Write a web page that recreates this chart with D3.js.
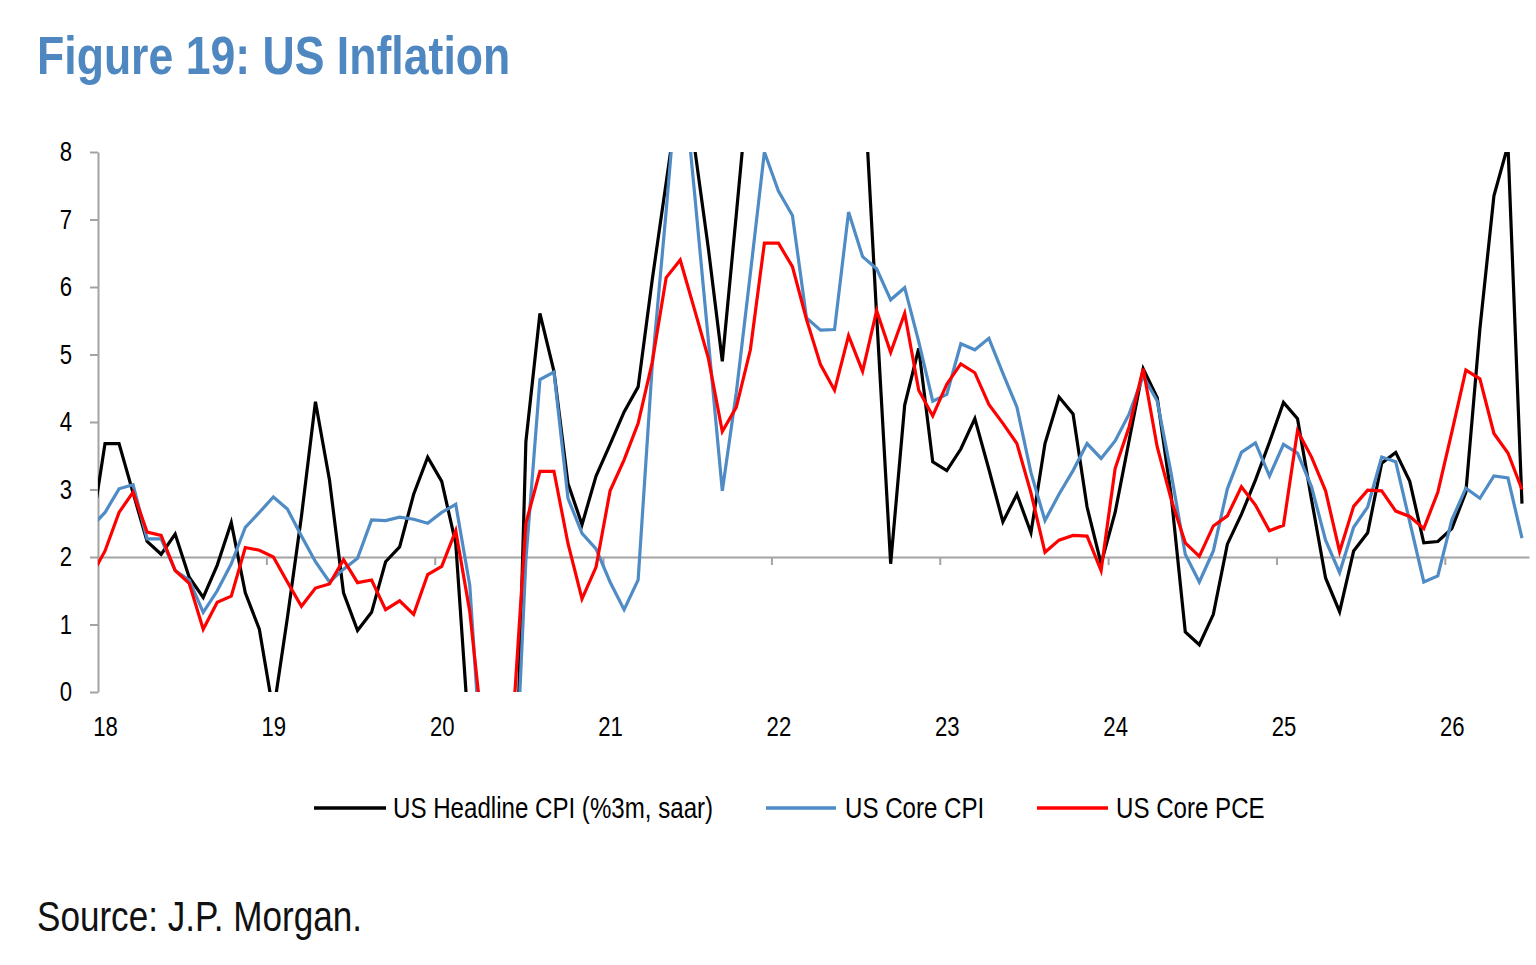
<!DOCTYPE html>
<html>
<head>
<meta charset="utf-8">
<script src="https://cdn.jsdelivr.net/npm/d3@7"></script>
<style>
  html, body { margin: 0; padding: 0; background: #fff; }
  svg { display: block; }
</style>
</head>
<body>
<svg id="chart" width="1536" height="965"></svg>
<script>
// ---------------- DATA (monthly, Dec 2017 .. Jun 2026) ----------------
const yearLabels = ["18", "19", "20", "21", "22", "23", "24", "25", "26"];
const yTicks = [0, 1, 2, 3, 4, 5, 6, 7, 8];
const seriesNames = ["US Headline CPI (%3m, saar)", "US Core CPI", "US Core PCE"];

const headlineCPI = [
  2.34,
  3.68, 3.68, 2.95, 2.23, 2.04, 2.34, 1.70, 1.40, 1.88, 2.51, 1.47, 0.93,   // 2018
  -0.30, 1.10, 2.60, 4.30, 3.14, 1.47, 0.91, 1.18, 1.93, 2.15, 2.93, 3.48,  // 2019
  3.12, 2.20, -0.81, -4.30, -5.10, -3.70, 3.71, 5.61, 4.75, 3.09, 2.48, 3.20, // 2020
  3.67, 4.15, 4.52, 6.10, 7.55, 9.00, 8.10, 6.58, 4.90, 7.08, 9.30, 9.10,   // 2021
  8.90, 9.60, 11.40, 9.20, 10.30, 11.20, 9.40, 5.58, 1.90, 4.25, 5.09, 3.41, // 2022
  3.28, 3.60, 4.05, 3.30, 2.52, 2.93, 2.36, 3.68, 4.37, 4.12, 2.74, 1.90,   // 2023
  2.66, 3.73, 4.79, 4.36, 2.90, 0.89, 0.70, 1.15, 2.19, 2.63, 3.14, 3.70,   // 2024
  4.29, 4.05, 2.85, 1.69, 1.19, 2.09, 2.36, 3.39, 3.55, 3.12, 2.21, 2.23,   // 2025
  2.42, 2.96, 5.38, 7.35, 8.10, 2.79                                        // 2026
];
const coreCPI = [
  2.44,
  2.66, 3.01, 3.07, 2.27, 2.27, 1.80, 1.66, 1.18, 1.50, 1.90, 2.44, 2.66,
  2.89, 2.71, 2.31, 1.93, 1.63, 1.82, 1.98, 2.55, 2.54, 2.59, 2.56, 2.50,
  2.66, 2.78, 1.58, -1.60, -2.60, -2.60, 1.96, 4.63, 4.74, 2.87, 2.35, 2.12,
  1.63, 1.22, 1.66, 4.82, 7.13, 9.60, 7.44, 5.22, 2.98, 4.44, 6.20, 8.00,
  7.42, 7.06, 5.54, 5.36, 5.37, 7.11, 6.45, 6.27, 5.81, 5.99, 5.19, 4.31,
  4.41, 5.16, 5.07, 5.24, 4.72, 4.22, 3.25, 2.54, 2.93, 3.28, 3.68, 3.46,
  3.72, 4.12, 4.68, 4.31, 3.23, 2.04, 1.63, 2.09, 3.01, 3.55, 3.69, 3.20,
  3.67, 3.54, 3.04, 2.25, 1.77, 2.44, 2.74, 3.48, 3.41, 2.52, 1.63, 1.72,
  2.55, 3.02, 2.87, 3.20, 3.17, 2.28
];
const corePCE = [
  1.71,
  2.09, 2.66, 2.96, 2.37, 2.32, 1.80, 1.61, 0.93, 1.33, 1.42, 2.14, 2.10,
  2.00, 1.63, 1.27, 1.54, 1.60, 1.96, 1.62, 1.66, 1.22, 1.35, 1.15, 1.74,
  1.86, 2.39, 1.19, -0.76, -1.60, -0.70, 2.50, 3.27, 3.27, 2.20, 1.38, 1.85,
  2.98, 3.44, 3.98, 4.88, 6.14, 6.40, 5.68, 4.95, 3.86, 4.22, 5.07, 6.65,
  6.65, 6.30, 5.52, 4.85, 4.47, 5.28, 4.75, 5.65, 5.03, 5.61, 4.47, 4.09,
  4.56, 4.86, 4.73, 4.26, 3.98, 3.68, 2.95, 2.07, 2.25, 2.32, 2.31, 1.80,
  3.31, 3.93, 4.79, 3.63, 2.85, 2.21, 2.01, 2.46, 2.61, 3.04, 2.77, 2.39,
  2.47, 3.87, 3.48, 2.98, 2.08, 2.75, 2.99, 2.98, 2.68, 2.60, 2.42, 2.96,
  3.85, 4.77, 4.64, 3.83, 3.54, 3.00
];
const seriesColors = ["#000000", "#4f8bc4", "#ff0000"];

// ---------------- LAYOUT ----------------
const svg = d3.select("#chart");
const plot = { left: 98, right: 1529, top: 152, bottom: 692 };
const axisGray = "#a3a3a3";
const nMonths = 102; // Jan 2018 .. Jun 2026 inside the axis

// Font handling: use a narrow face if present, otherwise condense Liberation Sans
function fontAvailable(name) {
  const t = svg.append("text").style("font-size", "100px").text("abcdefghijklmnop 0123456789");
  t.style("font-family", "monospace");
  const w0 = t.node().getComputedTextLength();
  t.style("font-family", `'${name}', monospace`);
  const w1 = t.node().getComputedTextLength();
  t.remove();
  return Math.abs(w1 - w0) > 1;
}
const hasNarrow = fontAvailable("Liberation Sans Narrow");
const FONT = hasNarrow ? "'Liberation Sans Narrow', 'Arial Narrow', sans-serif" : "'Liberation Sans', Arial, sans-serif";
const SX = hasNarrow ? 1 : 0.82;

function addText(g, x, y, str, opts) {
  return g.append("text")
    .attr("transform", `translate(${x},${y}) scale(${SX},1)`)
    .attr("x", 0).attr("y", 0)
    .style("font-family", FONT)
    .style("font-size", opts.size + "px")
    .style("font-weight", opts.weight || "normal")
    .style("fill", opts.color || "#000")
    .attr("text-anchor", opts.anchor || "start")
    .text(str);
}
function condenseAxisText(sel) {
  sel.selectAll("text").each(function () {
    const t = d3.select(this);
    const xv = +t.attr("x") || 0;
    t.attr("x", xv / SX).attr("transform", `scale(${SX},1)`);
  });
}

// ---------------- SCALES ----------------
const x = d3.scaleLinear().domain([0, nMonths]).range([plot.left, plot.right]);
const y = d3.scaleLinear().domain([0, 8]).range([plot.bottom, plot.top]);
const xPos = i => x(i - 1 + 0.5);   // index 0 = Dec 2017 (month -1)

// ---------------- TITLE ----------------
addText(svg, 37, 74, "Figure 19: US Inflation", { size: 54.4, weight: "bold", color: "#4f88c0" });

// ---------------- AXES ----------------
const yAxis = svg.append("g")
  .attr("transform", `translate(${plot.left},0)`)
  .call(d3.axisLeft(y).tickValues(yTicks).tickFormat(d3.format("d")).tickSizeInner(8).tickSizeOuter(0).tickPadding(18));
yAxis.select(".domain").attr("stroke", axisGray).attr("stroke-width", 2);
yAxis.selectAll(".tick line").attr("stroke", axisGray).attr("stroke-width", 2);
yAxis.selectAll("text").style("font-family", FONT).style("font-size", "27px").attr("fill", "#000");
condenseAxisText(yAxis);

// Horizontal axis line at y = 2 with yearly tick marks
const yearTicks = d3.range(0, nMonths + 1, 12);
const xAxisLine = svg.append("g")
  .attr("transform", `translate(0,${y(2)})`)
  .call(d3.axisBottom(x).tickValues(yearTicks).tickFormat("").tickSizeInner(8).tickSizeOuter(0));
xAxisLine.select(".domain").attr("stroke", axisGray).attr("stroke-width", 2);
xAxisLine.selectAll(".tick line").attr("stroke", axisGray).attr("stroke-width", 2);

// Year labels below the plot (centred on January of each year)
const labelPos = yearLabels.map((d, i) => i * 12 + 0.5);
const xLabels = svg.append("g")
  .attr("transform", `translate(0,${plot.bottom})`)
  .call(d3.axisBottom(x).tickValues(labelPos).tickFormat((d, i) => yearLabels[i]).tickSize(0).tickPadding(25));
xLabels.select(".domain").remove();
xLabels.selectAll("text").style("font-family", FONT).style("font-size", "27px").attr("fill", "#000");
condenseAxisText(xLabels);

// ---------------- LINES ----------------
svg.append("defs").append("clipPath").attr("id", "plotClip")
  .append("rect")
  .attr("x", plot.left).attr("y", plot.top)
  .attr("width", plot.right - plot.left + 2).attr("height", plot.bottom - plot.top);

const line = d3.line().x((d, i) => xPos(i)).y(d => y(d));
const lineGroup = svg.append("g").attr("clip-path", "url(#plotClip)");
[headlineCPI, coreCPI, corePCE].forEach((data, s) => {
  lineGroup.append("path")
    .datum(data)
    .attr("d", line)
    .attr("fill", "none")
    .attr("stroke", seriesColors[s])
    .attr("stroke-width", 3.2)
    .attr("stroke-linejoin", "miter")
    .attr("stroke-miterlimit", 4);
});

// ---------------- LEGEND ----------------
const legendItems = [
  { x1: 314, x2: 386, tx: 393 },
  { x1: 766, x2: 836, tx: 845 },
  { x1: 1037, x2: 1108, tx: 1116 }
];
const legend = svg.append("g");
legendItems.forEach((it, i) => {
  legend.append("line")
    .attr("x1", it.x1).attr("x2", it.x2).attr("y1", 808).attr("y2", 808)
    .attr("stroke", seriesColors[i]).attr("stroke-width", 3.5);
  addText(legend, it.tx, 818, seriesNames[i], { size: 29.4 });
});

// ---------------- SOURCE ----------------
addText(svg, 37, 931, "Source: J.P. Morgan.", { size: 42.8, color: "#111" });
</script>
</body>
</html>
